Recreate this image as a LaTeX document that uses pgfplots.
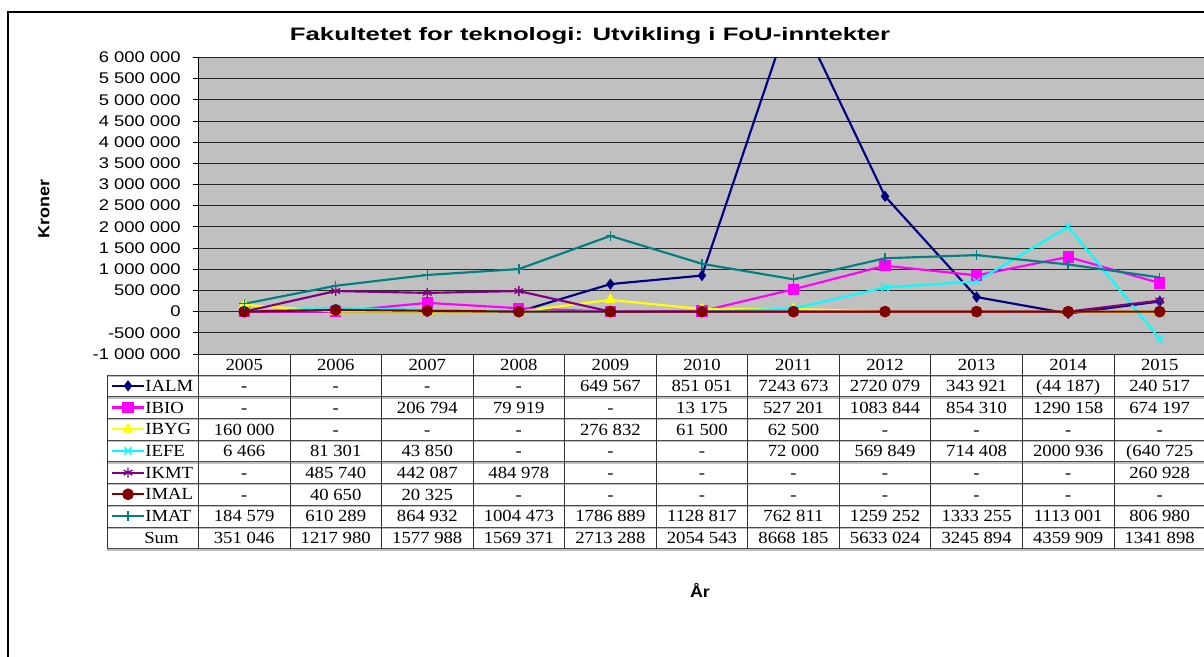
\documentclass[border=0pt]{standalone}
\usepackage{pgfplots}
\pgfplotsset{compat=1.18}
\usepackage{fontspec}
\setmainfont{Liberation Serif}
\newfontfamily\tabfont{Liberation Serif}[FakeStretch=1.1]
\newfontfamily\tickfont{Liberation Sans}[FakeStretch=1.19]
\newfontfamily\titlefont{Liberation Sans}[FakeStretch=1.43]
\newfontfamily\labfont{Liberation Sans}[FakeStretch=1.12]
\definecolor{plotgray}{RGB}{192,192,192}
\definecolor{cIALM}{RGB}{0,0,128}
\definecolor{cIBIO}{RGB}{255,0,255}
\definecolor{cIBYG}{RGB}{255,255,0}
\definecolor{cIEFE}{RGB}{0,255,255}
\definecolor{cIKMT}{RGB}{128,0,128}
\definecolor{cIMAL}{RGB}{128,0,0}
\definecolor{cIMAT}{RGB}{0,128,128}
\begin{document}
\begin{tikzpicture}[x=0.75pt,y=-0.75pt]
\path[use as bounding box] (0,0) rectangle (1204,657);
\begin{axis}[
  at={(148.8pt,-265.5pt)}, anchor=south west,
  scale only axis, width=755.3pt, height=222.5pt,
  xmin=-0.5, xmax=10.5, ymin=-1000000, ymax=6000000,
  axis background/.style={fill=plotgray},
  axis x line=none,
  axis y line*=left,
  y axis line style={-, black, line width=0.6pt},
  xtick=\empty,
  ytick={-1000000,-500000,0,500000,1000000,1500000,2000000,2500000,3000000,3500000,4000000,4500000,5000000,5500000,6000000},
  yticklabels={-1 000 000,-500 000,0,500 000,1 000 000,1 500 000,2 000 000,2 500 000,3 000 000,3 500 000,4 000 000,4 500 000,5 000 000,5 500 000,6 000 000},
  scaled y ticks=false,
  ymajorgrids,
  major grid style={black!85, line width=0.55pt},
  tick align=outside,
  major tick length=4.1pt,
  tick style={black, line width=0.6pt},
  yticklabel style={font=\tickfont\fontsize{11.6pt}{13pt}\selectfont, inner sep=0pt, xshift=-9pt},
  every axis plot/.append style={line width=1.6pt},
  legend style={at={(axis description cs:-0.0871,-0.0708)}, anchor=north west, draw=none, fill=none, inner sep=0pt, outer sep=0pt, row sep=0pt, column sep=0pt,
    font=\tabfont\fontsize{12.75pt}{14pt}\selectfont,
    nodes={inner sep=0pt, outer sep=0pt, text height=12.3pt, text depth=3.97pt, anchor=base west}},
  legend cell align=left,
  legend image code/.code={\draw[mark repeat=2, mark phase=2, #1] plot coordinates {(0pt,4.2pt) (12.2pt,4.2pt) (24.4pt,4.2pt)};},
]
\addplot[color=cIALM, mark=diamond*, mark size=3.6pt, mark options={solid, line width=0.8pt}] coordinates {
 (0,0) (1,0) (2,0) (3,0) (4,649567) (5,851051) (6,7243673) (7,2720079) (8,343921) (9,-44187) (10,240517)};
\addplot[color=cIBIO, mark=square*, mark size=3.8pt, mark options={solid, line width=0.8pt}] coordinates {
 (0,0) (1,0) (2,206794) (3,79919) (4,0) (5,13175) (6,527201) (7,1083844) (8,854310) (9,1290158) (10,674197)};
\addplot[color=cIBYG, mark=triangle*, mark size=4.2pt, mark options={solid, line width=0.8pt}] coordinates {
 (0,160000) (1,0) (2,0) (3,0) (4,276832) (5,61500) (6,62500) (7,0) (8,0) (9,0) (10,0)};
\addplot[color=cIEFE, mark=x, mark size=3.8pt, mark options={solid, line width=1pt}] coordinates {
 (0,6466) (1,81301) (2,43850) (3,0) (4,0) (5,0) (6,72000) (7,569849) (8,714408) (9,2000936) (10,-640725)};
\addplot[color=cIKMT, mark=asterisk, mark size=3.8pt, mark options={solid, line width=1pt}] coordinates {
 (0,0) (1,485740) (2,442087) (3,484978) (4,0) (5,0) (6,0) (7,0) (8,0) (9,0) (10,260928)};
\addplot[color=cIMAL, mark=*, mark size=4pt, mark options={solid, line width=0.8pt}] coordinates {
 (0,0) (1,40650) (2,20325) (3,0) (4,0) (5,0) (6,0) (7,0) (8,0) (9,0) (10,0)};
\addplot[color=cIMAT, mark=+, mark size=3.6pt, mark options={solid, line width=1pt}] coordinates {
 (0,184579) (1,610289) (2,864932) (3,1004473) (4,1786889) (5,1128817) (6,762811) (7,1259252) (8,1333255) (9,1113001) (10,806980)};
\legend{IALM,IBIO,IBYG,IEFE,IKMT,IMAL,IMAT}
\end{axis}
% frame
\draw[line width=1.5pt] (7.7,657) -- (7.7,11.7) -- (1204,11.7);
% title and labels
\node[anchor=base] at (590,40.7) {\titlefont\bfseries\fontsize{13.5pt}{16pt}\selectfont Fakultetet for teknologi: Utvikling i FoU-inntekter};
\node[rotate=90, anchor=center] at (44,209) {\labfont\bfseries\fontsize{12pt}{14pt}\selectfont Kroner};
\node[anchor=base] at (700,597) {\labfont\bfseries\fontsize{12pt}{14pt}\selectfont År};
% table grid
\foreach \y in {375,396.7,418.4,440.1,461.8,483.5,505.2,526.9,548.6} {
  \draw[black!25, line width=1pt] (107,\y+1.3) -- (1204,\y+1.3);
  \draw[black!70, line width=0.5pt] (107,\y) -- (1204,\y);
}
\foreach \k in {0,...,11} { \draw[black!80, line width=0.6pt] ({198.4+91.55*\k},354) -- ({198.4+91.55*\k},548.6); }
\draw[black!80, line width=0.6pt] (107,375) -- (107,548.6);
% table text
\tikzset{tc/.style={anchor=base, inner sep=0pt, font=\tabfont\fontsize{12.75pt}{14pt}\selectfont}}
\foreach \v [count=\k from 0] in {2005,2006,2007,2008,2009,2010,2011,2012,2013,2014,2015}
  \node[tc] at ({244.2+91.55*\k},370.3) {\v};
\foreach \v [count=\k from 0] in {-,-,-,-,649 567,851 051,7243 673,2720 079,343 921,{(44 187)},240 517}
  \node[tc] at ({244.2+91.55*\k},391.6) {\v};
\foreach \v [count=\k from 0] in {-,-,206 794,79 919,-,13 175,527 201,1083 844,854 310,1290 158,674 197}
  \node[tc] at ({244.2+91.55*\k},413.3) {\v};
\foreach \v [count=\k from 0] in {160 000,-,-,-,276 832,61 500,62 500,-,-,-,-}
  \node[tc] at ({244.2+91.55*\k},435.0) {\v};
\foreach \v [count=\k from 0] in {6 466,81 301,43 850,-,-,-,72 000,569 849,714 408,2000 936,{(640 725}}
  \node[tc] at ({244.2+91.55*\k},456.7) {\v};
\foreach \v [count=\k from 0] in {-,485 740,442 087,484 978,-,-,-,-,-,-,260 928}
  \node[tc] at ({244.2+91.55*\k},478.4) {\v};
\foreach \v [count=\k from 0] in {-,40 650,20 325,-,-,-,-,-,-,-,-}
  \node[tc] at ({244.2+91.55*\k},500.1) {\v};
\foreach \v [count=\k from 0] in {184 579,610 289,864 932,1004 473,1786 889,1128 817,762 811,1259 252,1333 255,1113 001,806 980}
  \node[tc] at ({244.2+91.55*\k},521.8) {\v};
\foreach \v [count=\k from 0] in {351 046,1217 980,1577 988,1569 371,2713 288,2054 543,8668 185,5633 024,3245 894,4359 909,1341 898}
  \node[tc] at ({244.2+91.55*\k},543.5) {\v};
\node[tc, anchor=base west] at (144,543.5) {Sum};
\end{tikzpicture}
\end{document}
